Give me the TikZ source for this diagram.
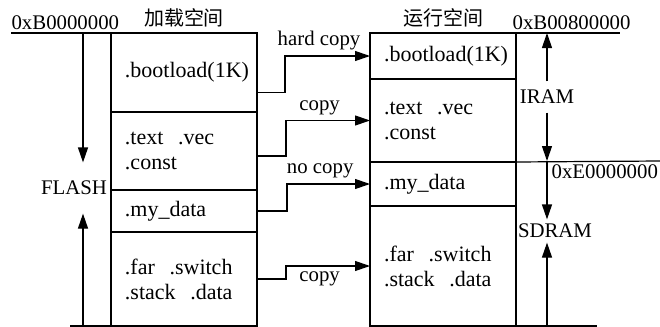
\documentclass[tikz,border=0pt]{standalone}
\usepackage{fontspec}
\setmainfont{Liberation Serif}
\newfontfamily\cjk{Noto Sans CJK SC}
\usetikzlibrary{arrows.meta}
\usetikzlibrary{positioning}
\usetikzlibrary{calc}
\tikzset{
	>={Triangle[length=7.5pt,width=5pt]},
	sect/.style={
		draw, rectangle,
		outer sep=0pt,
		minimum width=73pt,
		text width=59pt,
		inner xsep=7pt,
		align=left,
		font={\fontsize{11}{12.5}\selectfont\hyphenpenalty=10000}},
	addr/.style={inner xsep=0pt, inner ysep=1.5pt, font=\fontsize{10.4}{12}\selectfont},
	side/.style={inner sep=0pt, font=\fontsize{10.4}{12}\selectfont},
	title/.style={inner sep=2.5pt, font=\cjk\fontsize{10}{12}\selectfont},
	lbl/.style={inner sep=2.5pt, font=\fontsize{10.4}{12}\selectfont},
	conn/.style={->},
}
\begin{document}
\begin{tikzpicture}[x=0.5pt,y=-0.5pt,line width=0.6pt]
	\useasboundingbox (0,0) rectangle (660,327);

	% load space (left)
	\node[sect, anchor=north west, minimum height=39.5pt] (lboot) at (111,33) {.bootload(1K)};
	\node[sect, below=0pt of lboot, minimum height=39pt] (ltext) {.text\ \ .vec\\.const};
	\node[sect, below=0pt of ltext, minimum height=21pt] (lmy) {.my\_data};
	\node[sect, below=0pt of lmy, minimum height=47pt] (lfar) {.far\ \ .switch\\.stack\ \ .data};

	% run space (right)
	\node[sect, anchor=north west, minimum height=23pt] (rboot) at (370,33) {.bootload(1K)};
	\node[sect, below=0pt of rboot, minimum height=41.5pt] (rtext) {.text\ \ .vec\\.const};
	\node[sect, below=0pt of rtext, minimum height=22pt] (rmy) {.my\_data};
	\node[sect, below=0pt of rmy, minimum height=60pt] (rfar) {.far\ \ .switch\\.stack\ \ .data};

	\node[title, above=0pt of lboot] (ltitle) {加载空间};
	\node[title, above=0pt of rboot] (rtitle) {运行空间};

	% address lines
	\coordinate (ltop) at (11,33);
	\coordinate (lbot) at (70,326);
	\coordinate (rtop) at (620,33);
	\coordinate (rmid) at (660,161);
	\coordinate (rbot) at (597,326);
	\coordinate (lax) at (83,0);
	\coordinate (rax) at (547,0);
	\draw (ltop) -- (lboot.north west);
	\draw (lbot) -- (lfar.south west);
	\draw (rboot.north east) -- (rtop);
	\draw (rmy.north east) -- (rmid);
	\draw (rfar.south east) -- (rbot);

	\node[addr, anchor=south west] (laddr) at (ltop) {0xB0000000};
	\node[addr, anchor=south west] (raddr) at (512,33) {0xB00800000};
	\node[addr, anchor=north west] (eaddr) at (551,161) {0xE0000000};

	% memory kinds
	\node[side, minimum height=25pt] (flash) at (74,188) {FLASH};
	\node[side, minimum height=15pt] (iram) at (547,97) {IRAM};
	\node[side, minimum height=11pt] (sdram) at (555,231) {SDRAM};

	\draw[->] (ltop -| lax) -- (flash.north -| lax);
	\draw[->] (lbot -| lax) -- (flash.south -| lax);
	\draw[->] (iram.north -| rax) -- (rtop -| rax);
	\draw[->] (iram.south -| rax) -- (rmid -| rax);
	\draw[->] (rmid -| rax) -- (sdram.north -| rax);
	\draw[->] (rbot -| rax) -- (sdram.south -| rax);

	% copy arrows
	\draw[conn] (lboot.east) ++(0,20) -- ++(28,0) |- node[lbl, pos=0.7, above] {hard copy} (rboot.west);
	\draw[conn] (ltext.east) ++(0,5) -- ++(29,0) |- node[lbl, pos=0.7, above] {copy} (rtext.west);
	\draw[conn] (lmy.east) -- ++(30,0) |- node[lbl, pos=0.7, above] {no copy} (rmy.west);
	\draw[conn] (lfar.east) -- ++(29,0) |- node[lbl, pos=0.7, below] {copy} (rfar.west);
\end{tikzpicture}
\end{document}
